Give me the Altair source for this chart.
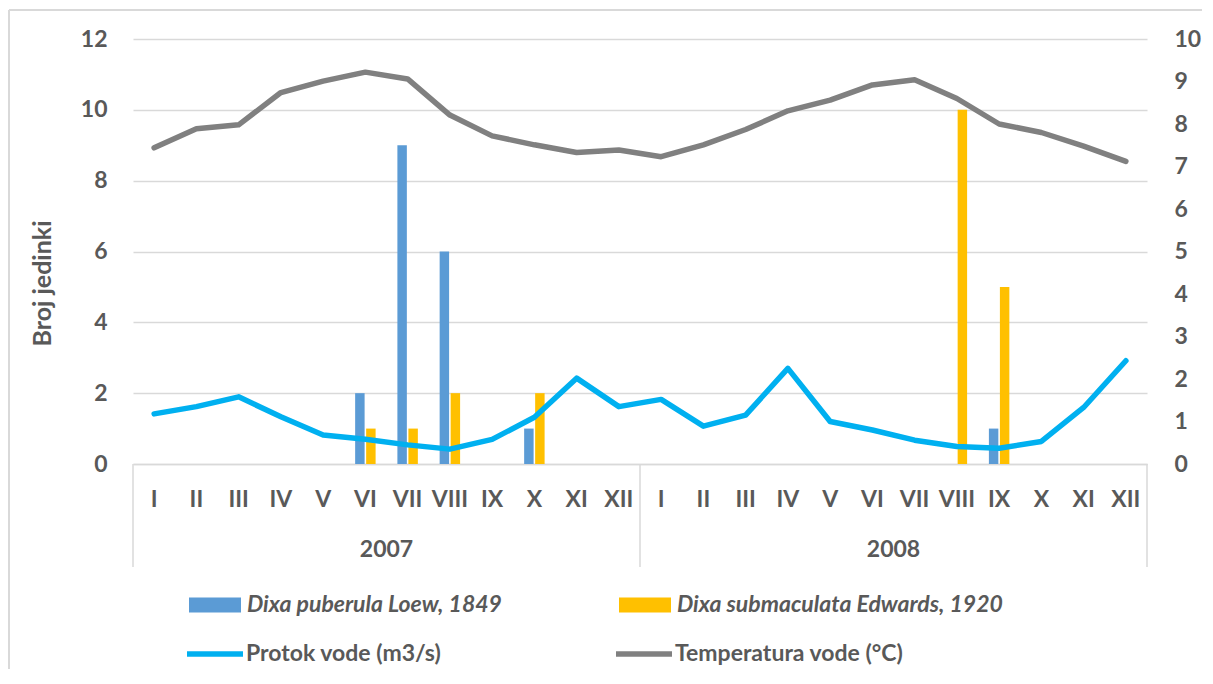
import altair as alt
import pandas as pd

months = ["I", "II", "III", "IV", "V", "VI", "VII", "VIII", "IX", "X", "XI", "XII"]
years = ["2007", "2008"]

species = ["Dixa puberula Loew, 1849", "Dixa submaculata Edwards, 1920"]
puberula = [0, 0, 0, 0, 0, 2, 9, 6, 0, 1, 0, 0,
            0, 0, 0, 0, 0, 0, 0, 0, 1, 0, 0, 0]
submaculata = [0, 0, 0, 0, 0, 1, 1, 2, 0, 2, 0, 0,
               0, 0, 0, 0, 0, 0, 0, 10, 5, 0, 0, 0]

line_series = ["Protok vode (m3/s)", "Temperatura vode (°C)"]
protok = [1.18, 1.35, 1.58, 1.11, 0.68, 0.58, 0.45, 0.35, 0.58, 1.10, 2.02, 1.35,
          1.52, 0.89, 1.15, 2.25, 1.00, 0.80, 0.56, 0.41, 0.37, 0.53, 1.33, 2.43]
temperatura = [7.44, 7.89, 7.98, 8.74, 9.01, 9.22, 9.06, 8.21, 7.72, 7.51, 7.33, 7.39,
               7.23, 7.51, 7.87, 8.31, 8.56, 8.92, 9.04, 8.60, 8.00, 7.80, 7.48, 7.12]

left_ticks = [0, 2, 4, 6, 8, 10, 12]
right_ticks = [0, 1, 2, 3, 4, 5, 6, 7, 8, 9, 10]

keys = [f"{y}-{m}" for y in years for m in months]

bar_rows = []
for k, p, s in zip(keys, puberula, submaculata):
    if p:
        bar_rows.append({"key": k, "species": species[0], "count": p})
    if s:
        bar_rows.append({"key": k, "species": species[1], "count": s})
bars_df = pd.DataFrame(bar_rows)

line_rows = []
for name, vals in zip(line_series, [protok, temperatura]):
    for k, v in zip(keys, vals):
        line_rows.append({"key": k, "series": name, "value": v})
lines_df = pd.DataFrame(line_rows)

FONT = "Lato"
TXT = "#595959"
GRID = "#D9D9D9"

xscale = alt.Scale(domain=keys, paddingInner=0, paddingOuter=0)
xaxis = alt.Axis(
    title=None, labelAngle=0, ticks=False, grid=False, domain=True,
    domainColor=GRID, domainWidth=1.5,
    labelExpr="split(datum.label, '-')[1]",
    labelOverlap=False, labelBound=False,
    labelFont=FONT, labelFontWeight="bold", labelFontSize=23, labelColor=TXT,
    labelBaseline="middle", labelPadding=35,
)

bars = alt.Chart(bars_df).mark_bar().encode(
    x=alt.X("key:N", scale=xscale, axis=xaxis, sort=keys),
    xOffset=alt.XOffset("species:N", scale=alt.Scale(domain=species, paddingInner=0.14, paddingOuter=0.99)),
    y=alt.Y("count:Q", scale=alt.Scale(domain=[0, 12], nice=False),
            axis=alt.Axis(values=left_ticks, title="Broj jedinki", grid=True, gridColor=GRID,
                          gridWidth=1.5, domain=False, ticks=False,
                          labelFont=FONT, labelFontWeight="bold", labelFontSize=23,
                          labelColor=TXT, labelPadding=26,
                          titleFont=FONT, titleFontWeight="bold", titleFontSize=25,
                          titleColor=TXT, titleAngle=-90, titleAlign="center",
                          titleBaseline="middle", titleX=-91, titleY=244)),
    fill=alt.Fill("species:N", scale=alt.Scale(domain=species, range=["#5B9BD5", "#FFC000"]),
                  legend=alt.Legend(title=None, orient="none", legendX=56, legendY=540,
                                    direction="horizontal", columns=2, columnPadding=117,
                                    symbolType="M-1,-0.29L1,-0.29L1,0.29L-1,0.29Z",
                                    symbolSize=2704, symbolStrokeWidth=0, labelOffset=6,
                                    labelFont=FONT, labelFontWeight="bold",
                                    labelFontStyle="italic", labelFontSize=23,
                                    labelColor=TXT, labelLimit=500)),
)

lines = alt.Chart(lines_df).mark_line(strokeWidth=5.5, strokeJoin="round", strokeCap="round").encode(
    x=alt.X("key:N", scale=xscale, axis=xaxis, sort=keys),
    y=alt.Y("value:Q", scale=alt.Scale(domain=[0, 10], nice=False),
            axis=alt.Axis(orient="right", values=right_ticks, title=None, grid=False,
                          domain=False, ticks=False, labelFont=FONT, labelFontWeight="bold",
                          labelFontSize=23, labelColor=TXT, labelPadding=27)),
    stroke=alt.Stroke("series:N", scale=alt.Scale(domain=line_series, range=["#00B0F0", "#808080"]),
                      legend=alt.Legend(title=None, orient="none", legendX=51, legendY=584,
                                        direction="horizontal", columns=2, columnPadding=163,
                                        symbolType="stroke", symbolSize=3136,
                                        symbolStrokeWidth=5.5, labelOffset=0,
                                        labelFont=FONT, labelFontWeight="bold",
                                        labelFontSize=23, labelColor=TXT, labelLimit=500)),
    order=alt.Order("series:N"),
)

sep_start = pd.DataFrame({"key": [keys[0], keys[12]]})
sep_end = pd.DataFrame({"key": [keys[-1]]})

rule_start = alt.Chart(sep_start).mark_rule(color=GRID, strokeWidth=1.5).encode(
    x=alt.X("key:N", scale=xscale, axis=xaxis, sort=keys, bandPosition=0),
    y=alt.value(425), y2=alt.value(528),
)
rule_end = alt.Chart(sep_end).mark_rule(color=GRID, strokeWidth=1.5).encode(
    x=alt.X("key:N", scale=xscale, axis=xaxis, sort=keys, bandPosition=1),
    y=alt.value(425), y2=alt.value(528),
)

year_df = pd.DataFrame({"key": [keys[5], keys[17]], "year": years})
year_text = alt.Chart(year_df).mark_text(
    font=FONT, fontWeight="bold", fontSize=23, color=TXT, baseline="middle", align="center"
).encode(
    x=alt.X("key:N", scale=xscale, axis=xaxis, sort=keys, bandPosition=1),
    y=alt.value(511),
    text="year:N",
)

frame_top = alt.Chart(pd.DataFrame({"a": [0]})).mark_rule(color=GRID, strokeWidth=2).encode(
    x=alt.value(-124), x2=alt.value(1100), y=alt.value(-29)
)
frame_left = alt.Chart(pd.DataFrame({"a": [0]})).mark_rule(color=GRID, strokeWidth=2).encode(
    x=alt.value(-124), y=alt.value(-29), y2=alt.value(700)
)

chart = alt.layer(
    frame_top, frame_left, bars, lines, rule_start, rule_end, year_text
).resolve_scale(
    y="independent", fill="independent", stroke="independent"
).resolve_legend(
    fill="independent", stroke="independent"
).properties(
    width=1014, height=425,
    autosize="none",
    padding={"left": 125, "top": 31, "right": 55, "bottom": 205},
).configure_view(stroke=None)

chart.save("out.html", embed_options={"renderer": "svg", "actions": False})
